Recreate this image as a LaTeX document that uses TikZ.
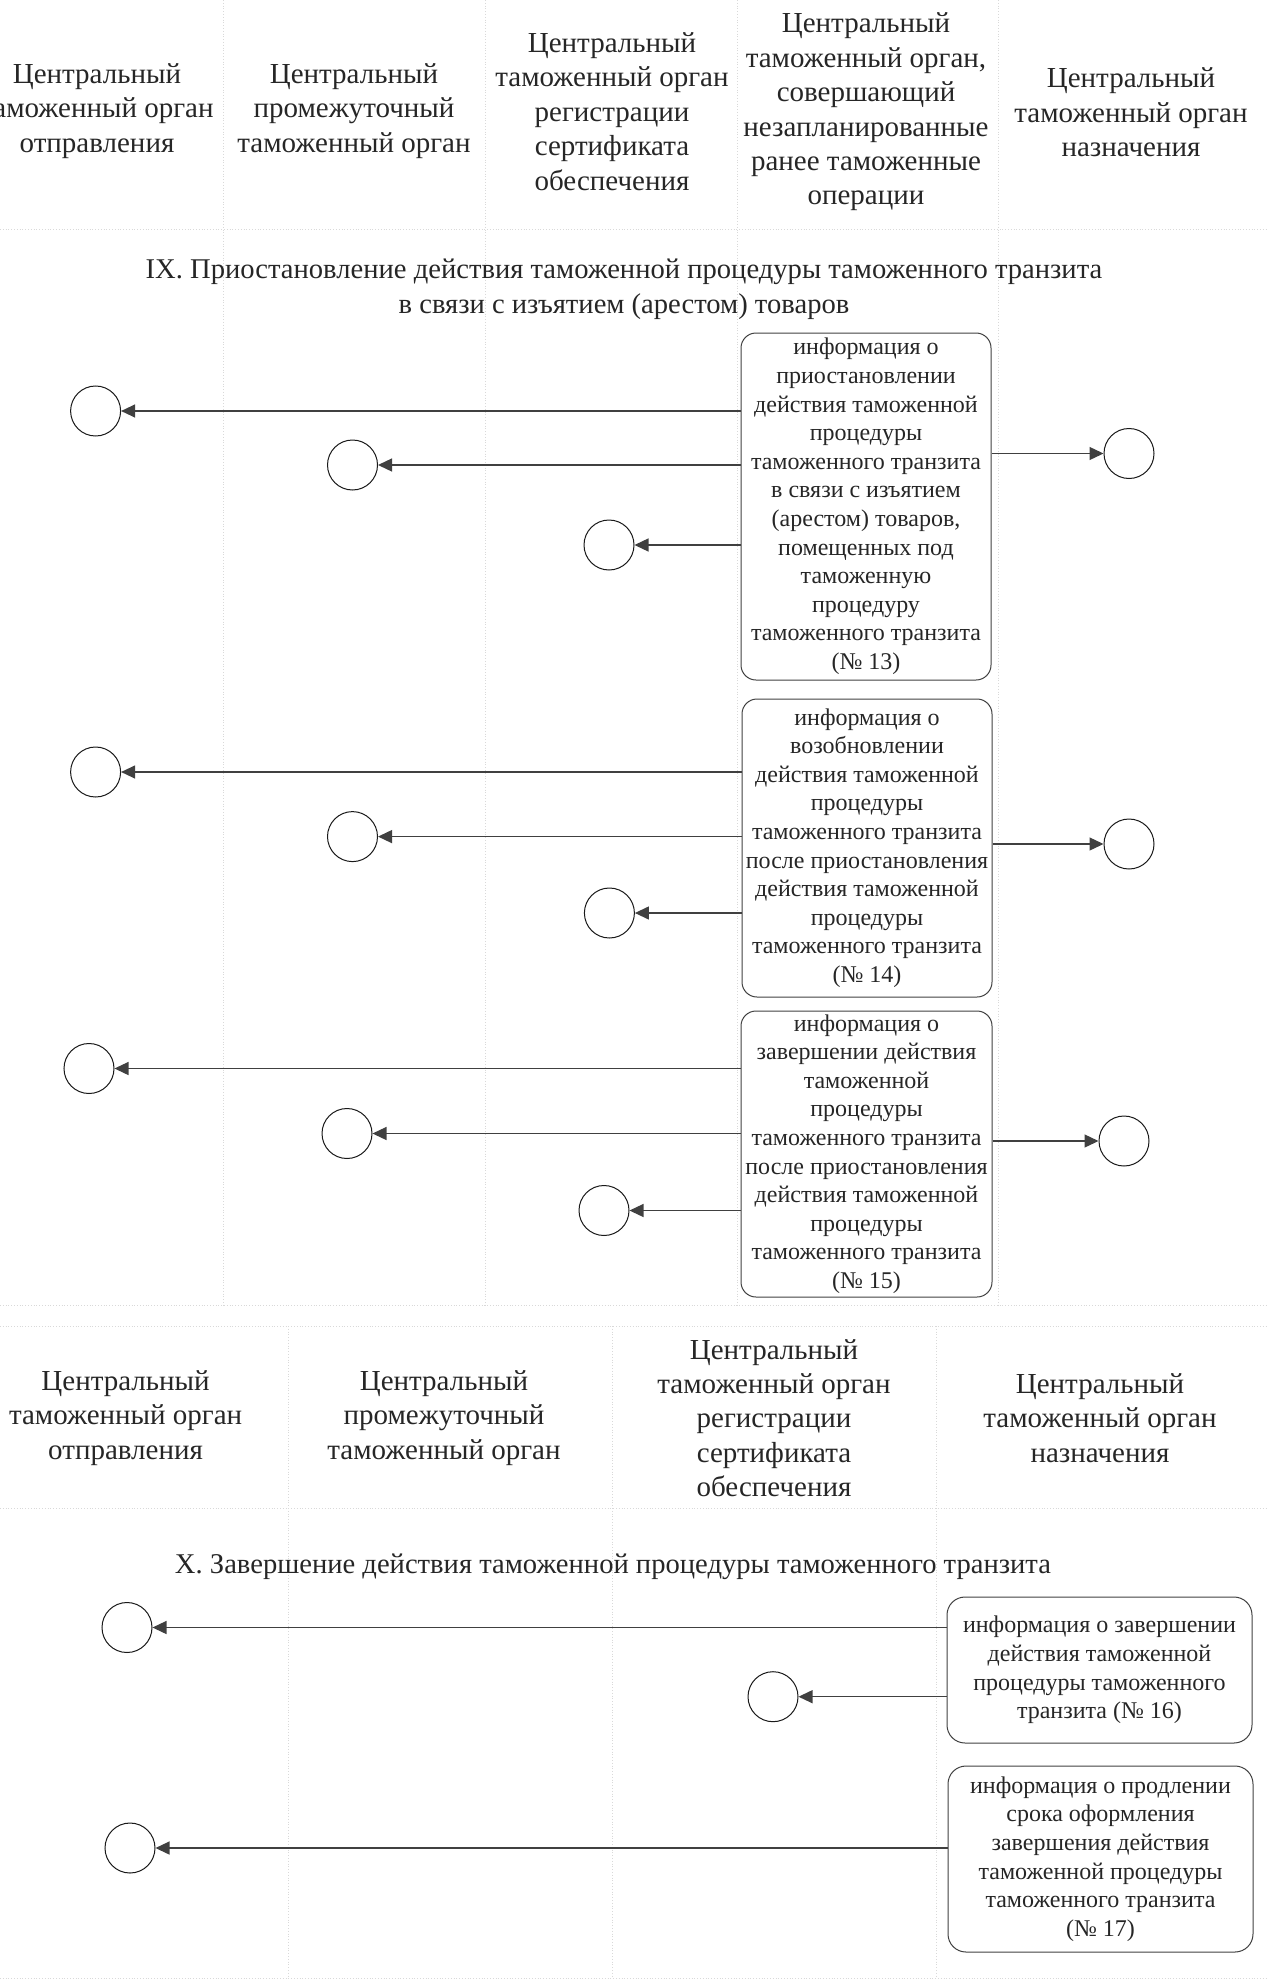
\documentclass[tikz,border=0pt]{standalone}
\usepackage{fontspec}
\setmainfont{Liberation Serif}
\usetikzlibrary{arrows.meta}
\tikzset{
  hdr/.style={align=center, font=\fontsize{14.5pt}{17.2pt}\selectfont, text=black!85, inner sep=0pt},
  ttl/.style={align=center, font=\fontsize{14.3pt}{17.5pt}\selectfont, text=black!85, inner sep=0pt},
  info/.style={draw=black!75, line width=0.5pt, rounded corners=7.5pt, align=center,
    font=\fontsize{12pt}{14.3pt}\selectfont, text=black!85, inner sep=0pt},
  endpt/.style={circle, draw=black!90, line width=0.5pt, minimum size=25pt, inner sep=0pt},
  arr/.style={draw=black!75, line width=0.65pt, -{Triangle[length=7pt,width=6.5pt]}},
  gridln/.style={draw=black!15, line width=0.4pt, densely dotted}
}
\begin{document}
\begin{tikzpicture}[x=0.5pt,y=-0.5pt]
\useasboundingbox (0,0) rectangle (1267,1985);
\clip (0,0) rectangle (1267,1985);

% faint table lines
\foreach \gx in {223,485,737,998} \draw[gridln] (\gx,0) -- (\gx,1305);
\draw[gridln] (0,229) -- (1267,229);
\draw[gridln] (0,1305) -- (1267,1305);
\draw[gridln] (0,1326) -- (1267,1326);
\foreach \gx in {288,612,936} \draw[gridln] (\gx,1326) -- (\gx,1978);
\draw[gridln] (0,1508) -- (1267,1508);
\draw[gridln] (0,1978) -- (1267,1978);

% ---- header (section IX)
\node[hdr] (h1) at (97,111) {Центральный\\таможенный орган\\отправления};
\node[hdr] (h2) at (354,111) {Центральный\\промежуточный\\таможенный орган};
\node[hdr] (h3) at (612,111.5) {Центральный\\таможенный орган\\регистрации\\сертификата\\обеспечения};
\node[hdr] (h4) at (866,112) {Центральный\\таможенный орган,\\совершающий\\незапланированные\\ранее таможенные\\операции};
\node[hdr] (h5) at (1131,112.5) {Центральный\\таможенный орган\\назначения};

\node[ttl] (t9) at (624,289.5) {IX. Приостановление действия таможенной процедуры таможенного транзита\\в связи с изъятием (арестом) товаров};

% ---- boxes IX
\node[info, minimum width=125pt, minimum height=173.5pt] (b13) at (866,506.5)
  {информация о\\приостановлении\\действия таможенной\\процедуры\\таможенного транзита\\в связи с изъятием\\(арестом) товаров,\\помещенных под\\таможенную\\процедуру\\таможенного транзита\\(№ 13)};
\node[info, minimum width=125pt, minimum height=149pt] (b14) at (867,848)
  {информация о\\возобновлении\\действия таможенной\\процедуры\\таможенного транзита\\после приостановления\\действия таможенной\\процедуры\\таможенного транзита\\(№ 14)};
\node[info, minimum width=125.5pt, minimum height=143pt] (b15) at (866.5,1154)
  {информация о\\завершении действия\\таможенной\\процедуры\\таможенного транзита\\после приостановления\\действия таможенной\\процедуры\\таможенного транзита\\(№ 15)};

% circles IX
\node[endpt] (c13a) at (95.6,411) {};
\node[endpt] (c13b) at (352.5,465) {};
\node[endpt] (c13c) at (609,545) {};
\node[endpt] (c13r) at (1129,453.5) {};
\node[endpt] (c14a) at (95.6,772) {};
\node[endpt] (c14b) at (352.5,836.6) {};
\node[endpt] (c14c) at (609.4,913) {};
\node[endpt] (c14r) at (1129,844) {};
\node[endpt] (c15a) at (89,1068.5) {};
\node[endpt] (c15b) at (347,1133.5) {};
\node[endpt] (c15c) at (604,1210.5) {};
\node[endpt] (c15r) at (1124,1141) {};

\foreach \c in {c13a,c13b,c13c} \draw[arr] (b13.west |- \c) -- (\c);
\draw[arr] (b13.east |- c13r) -- (c13r);
\foreach \c in {c14a,c14b,c14c} \draw[arr] (b14.west |- \c) -- (\c);
\draw[arr] (b14.east |- c14r) -- (c14r);
\foreach \c in {c15a,c15b,c15c} \draw[arr] (b15.west |- \c) -- (\c);
\draw[arr] (b15.east |- c15r) -- (c15r);

% ---- header (section X)
\node[hdr] (k1) at (125.6,1418) {Центральный\\таможенный орган\\отправления};
\node[hdr] (k2) at (444,1418) {Центральный\\промежуточный\\таможенный орган};
\node[hdr] (k3) at (774,1418) {Центральный\\таможенный орган\\регистрации\\сертификата\\обеспечения};
\node[hdr] (k4) at (1100,1418) {Центральный\\таможенный орган\\назначения};

\node[ttl] (t10) at (613,1567) {X. Завершение действия таможенной процедуры таможенного транзита};

% ---- boxes X
\node[info, rounded corners=9pt, minimum width=152.5pt, minimum height=73pt] (b16) at (1099.5,1670)
  {информация о завершении\\действия таможенной\\процедуры таможенного\\транзита (№ 16)};
\node[info, rounded corners=9pt, minimum width=152.5pt, minimum height=93pt] (b17) at (1100.5,1859)
  {информация о продлении\\срока оформления\\завершения действия\\таможенной процедуры\\таможенного транзита\\(№ 17)};

\node[endpt] (c16a) at (127,1627.5) {};
\node[endpt] (c16b) at (773,1696.7) {};
\node[endpt] (c17a) at (130,1848) {};

\draw[arr] (b16.west |- c16a) -- (c16a);
\draw[arr] (b16.west |- c16b) -- (c16b);
\draw[arr] (b17.west |- c17a) -- (c17a);
\end{tikzpicture}
\end{document}
